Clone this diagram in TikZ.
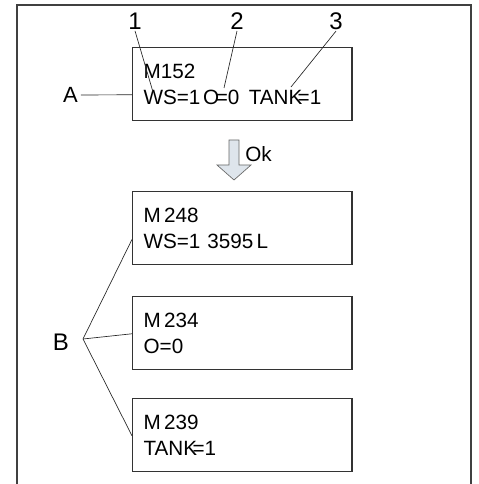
\documentclass[tikz,border=0pt]{standalone}
\usepackage{fontspec}
\setmainfont{Liberation Sans}
\usetikzlibrary{positioning}
\definecolor{ArrowFill}{RGB}{222,229,236}
\tikzset{
  msgbox/.style={draw=black!80, line width=0.9pt, anchor=north west, text width=148pt,
    minimum height=54.75pt, inner xsep=8.25pt, inner ysep=0pt, align=left,
    font=\fontsize{15.5}{19.5}\selectfont},
  callout/.style={font=\fontsize{18}{20}\selectfont, inner sep=1pt},
  leader/.style={draw=black!85, line width=0.5pt},
}
\begin{document}
\begin{tikzpicture}[x=0.75pt, y=-0.75pt]
  \useasboundingbox (0,0) rectangle (478,484);
  % frame
  \draw[black!75, line width=0.9pt] (17,484) -- (17,5) -- (471,5) -- (471,484);
  % display boxes
  \node[msgbox] (boxA) at (132,47) {M152\\WS=1\hspace{2pt}O\kern-2.5pt=0\hspace{7pt}TANK\kern-3.5pt=1};
  \node[msgbox] (box2) at (132,191) {M\,248\\WS=1 3595\,L};
  \node[msgbox] (box3) at (132,296) {M\,234\\O=0};
  \node[msgbox] (box4) at (132,398) {M\,239\\TANK\kern-3.5pt=1};
  % Ok arrow
  \draw[fill=ArrowFill, draw=black!60, line width=0.5pt]
    (229,140) -- (239,140) -- (239,165) -- (251,165) -- (234,180) -- (217,165) -- (229,165) -- cycle;
  \node[font=\fontsize{15.5}{17}\selectfont, anchor=west, inner sep=0pt] (ok) at (245,154.5) {Ok};
  % callouts
  \node[callout] (n1) at (135,21) {1};
  \node[callout] (n2) at (237,21) {2};
  \node[callout] (n3) at (336,21) {3};
  \coordinate (wsmark) at (153,92);
  \coordinate (omark) at (224,88);
  \coordinate (tankmark) at (291,87);
  \draw[leader] (n1.south) -- (wsmark);
  \draw[leader] (n2.south) -- (omark);
  \draw[leader] (n3.south) -- (tankmark);
  \node[callout, font=\fontsize{16.5}{18}\selectfont, inner sep=2pt] (A) at (70.5,95) {A};
  \draw[leader] (A.east) -- ([yshift=-8pt]boxA.west);
  \node[callout] (B) at (61,342.5) {B};
  \coordinate (fork) at (83,339);
  \draw[leader] (fork) -- ([yshift=-8.5pt]box2.west);
  \draw[leader] (fork) -- ([yshift=-0.5pt]box3.west);
  \draw[leader] (fork) -- ([yshift=-0.5pt]box4.west);
\end{tikzpicture}
\end{document}
